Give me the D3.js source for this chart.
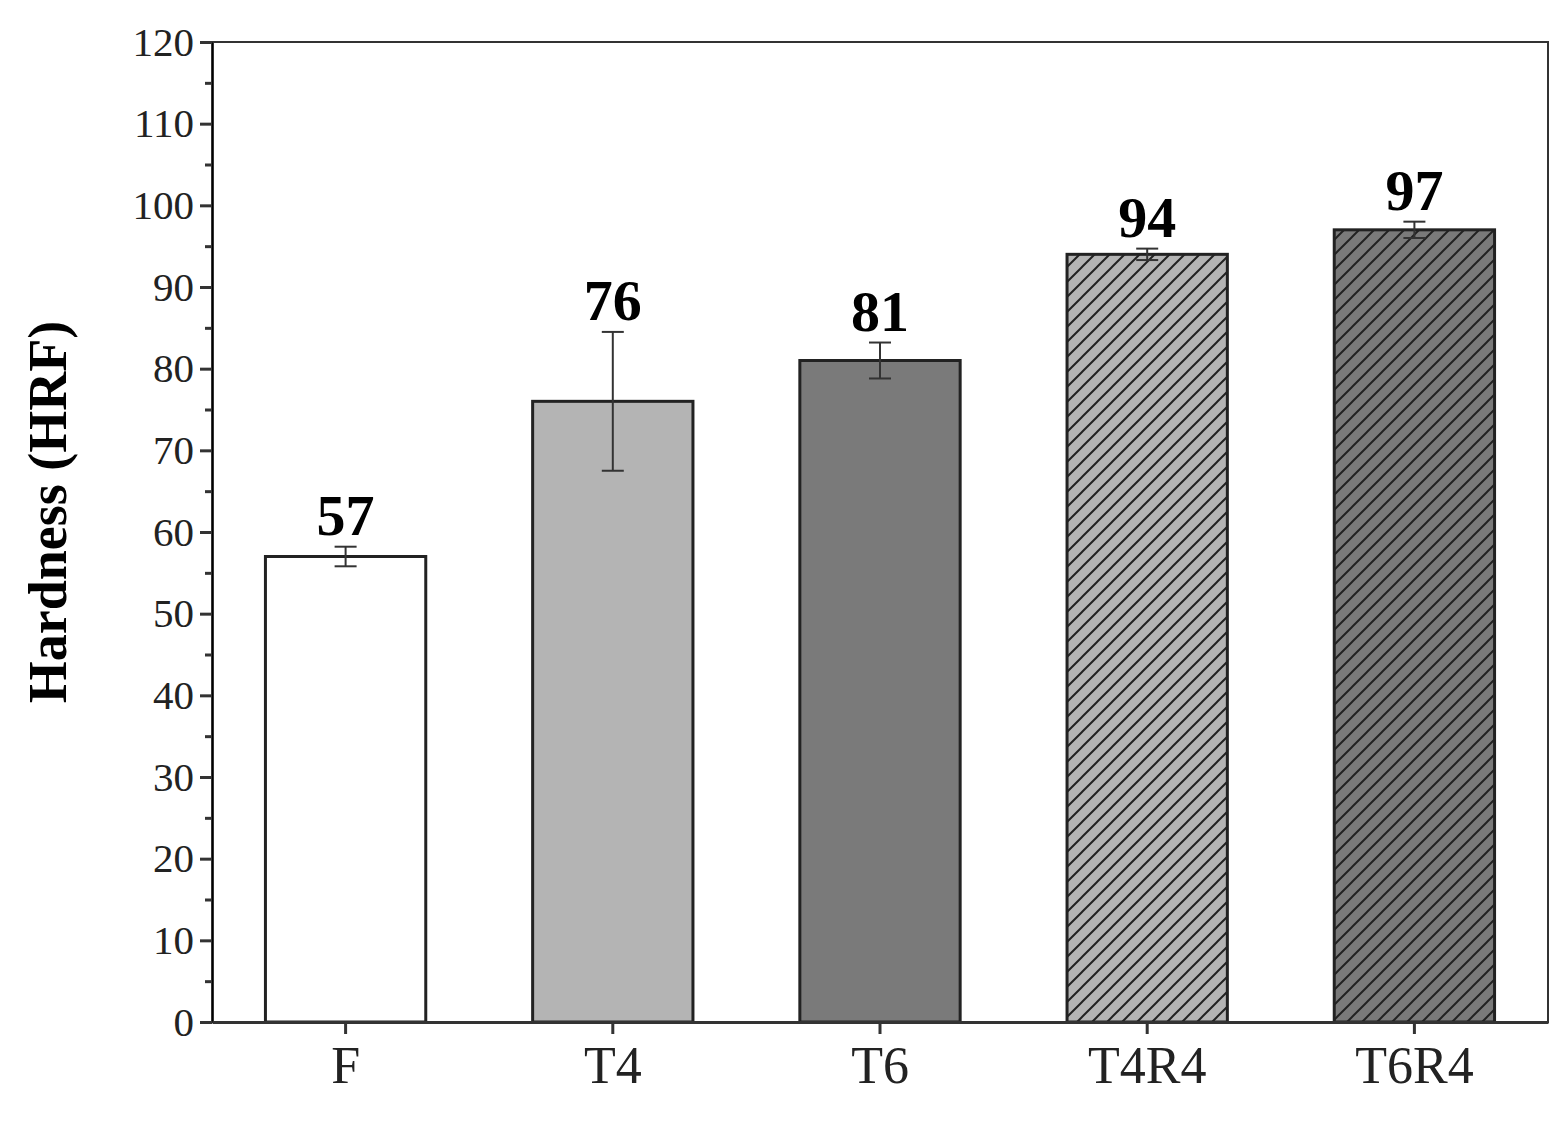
<!DOCTYPE html>
<html>
<head>
<meta charset="utf-8">
<script src="https://cdn.jsdelivr.net/npm/d3@7"></script>
<style>
body { margin: 0; background: #fff; }
text { font-family: "Liberation Serif", "Times New Roman", serif; }
</style>
</head>
<body>
<svg id="chart" width="1563" height="1122"></svg>
<script>
// data
var categories = ["F", "T4", "T6", "T4R4", "T6R4"];
var hardness = [57, 76, 81, 94, 97];
var errors = [1.2, 8.5, 2.2, 0.7, 1.0];
var fills = ["#ffffff", "#b4b4b4", "#7a7a7a", "#b4b4b4", "#7a7a7a"];
var hatched = [false, false, false, true, true];
var yTicks = d3.range(0, 121, 10);

var margin = {top: 42, right: 15, bottom: 100, left: 212},
	width = 1563 - margin.left - margin.right,
	height = 1122 - margin.top - margin.bottom;

var svg = d3.select("#chart");
var defs = svg.append("defs");
fills.forEach(function(c, i) {
	if (!hatched[i]) return;
	var p = defs.append("pattern")
		.attr("id", "hatch" + i)
		.attr("patternUnits", "userSpaceOnUse")
		.attr("width", 15).attr("height", 15);
	p.append("rect").attr("width", 15).attr("height", 15).attr("fill", c);
	p.append("path").attr("d", "M-4,4 L4,-4 M0,15 L15,0 M11,19 L19,11")
		.attr("stroke", "#222").attr("stroke-width", 2);
});

var g = svg.append("g").attr("transform", "translate(" + margin.left + "," + margin.top + ")");

var x = d3.scaleBand().domain(categories).range([0, width]).paddingInner(0.4).paddingOuter(0.2);
var y = d3.scaleLinear().domain([0, 120]).range([height, 0]);

// frame
g.append("rect").attr("width", width).attr("height", height)
	.attr("fill", "none").attr("stroke", "#333").attr("stroke-width", 2);

// bars
g.selectAll(".bar").data(hardness).enter().append("rect")
	.attr("x", function(d, i) { return x(categories[i]); })
	.attr("y", function(d) { return y(d); })
	.attr("width", x.bandwidth())
	.attr("height", function(d) { return height - y(d); })
	.attr("fill", function(d, i) { return hatched[i] ? "url(#hatch" + i + ")" : fills[i]; })
	.attr("stroke", "#222").attr("stroke-width", 3);

// error bars
var eb = g.selectAll(".err").data(hardness).enter().append("g")
	.attr("transform", function(d, i) { return "translate(" + (x(categories[i]) + x.bandwidth() / 2) + ",0)"; })
	.attr("stroke", "#333").attr("stroke-width", 2);
eb.append("line").attr("y1", function(d, i) { return y(d + errors[i]); }).attr("y2", function(d, i) { return y(d - errors[i]); });
eb.append("line").attr("x1", -11).attr("x2", 11).attr("y1", function(d, i) { return y(d + errors[i]); }).attr("y2", function(d, i) { return y(d + errors[i]); });
eb.append("line").attr("x1", -11).attr("x2", 11).attr("y1", function(d, i) { return y(d - errors[i]); }).attr("y2", function(d, i) { return y(d - errors[i]); });

// value labels
g.selectAll(".val").data(hardness).enter().append("text")
	.attr("x", function(d, i) { return x(categories[i]) + x.bandwidth() / 2; })
	.attr("y", function(d, i) { return y(d + errors[i]) - 12; })
	.attr("text-anchor", "middle").attr("font-size", 58).attr("font-weight", "bold")
	.text(function(d) { return d; });

// axes
var yAxis = g.append("g").call(d3.axisLeft(y).tickValues(yTicks).tickSize(12).tickSizeOuter(0).tickPadding(6));
g.append("g").call(d3.axisLeft(y).tickValues(d3.range(5, 120, 10)).tickSize(7).tickSizeOuter(0).tickFormat(""));
var xAxis = g.append("g").attr("transform", "translate(0," + height + ")")
	.call(d3.axisBottom(x).tickSize(12).tickSizeOuter(0).tickPadding(12));
[yAxis, xAxis].forEach(function(a) {
	a.select(".domain").attr("stroke", "#333").attr("stroke-width", 3);
});
g.selectAll(".tick line").attr("stroke", "#333").attr("stroke-width", 3);
yAxis.selectAll("text").attr("font-size", 41).attr("fill", "#222");
xAxis.selectAll("text").attr("font-size", 52).attr("fill", "#222");

// y title
svg.append("text")
	.attr("transform", "translate(66," + (margin.top + height / 2 - 20) + ") rotate(-90)")
	.attr("text-anchor", "middle").attr("font-size", 54).attr("font-weight", "bold")
	.text("Hardness (HRF)");
</script>
</body>
</html>
